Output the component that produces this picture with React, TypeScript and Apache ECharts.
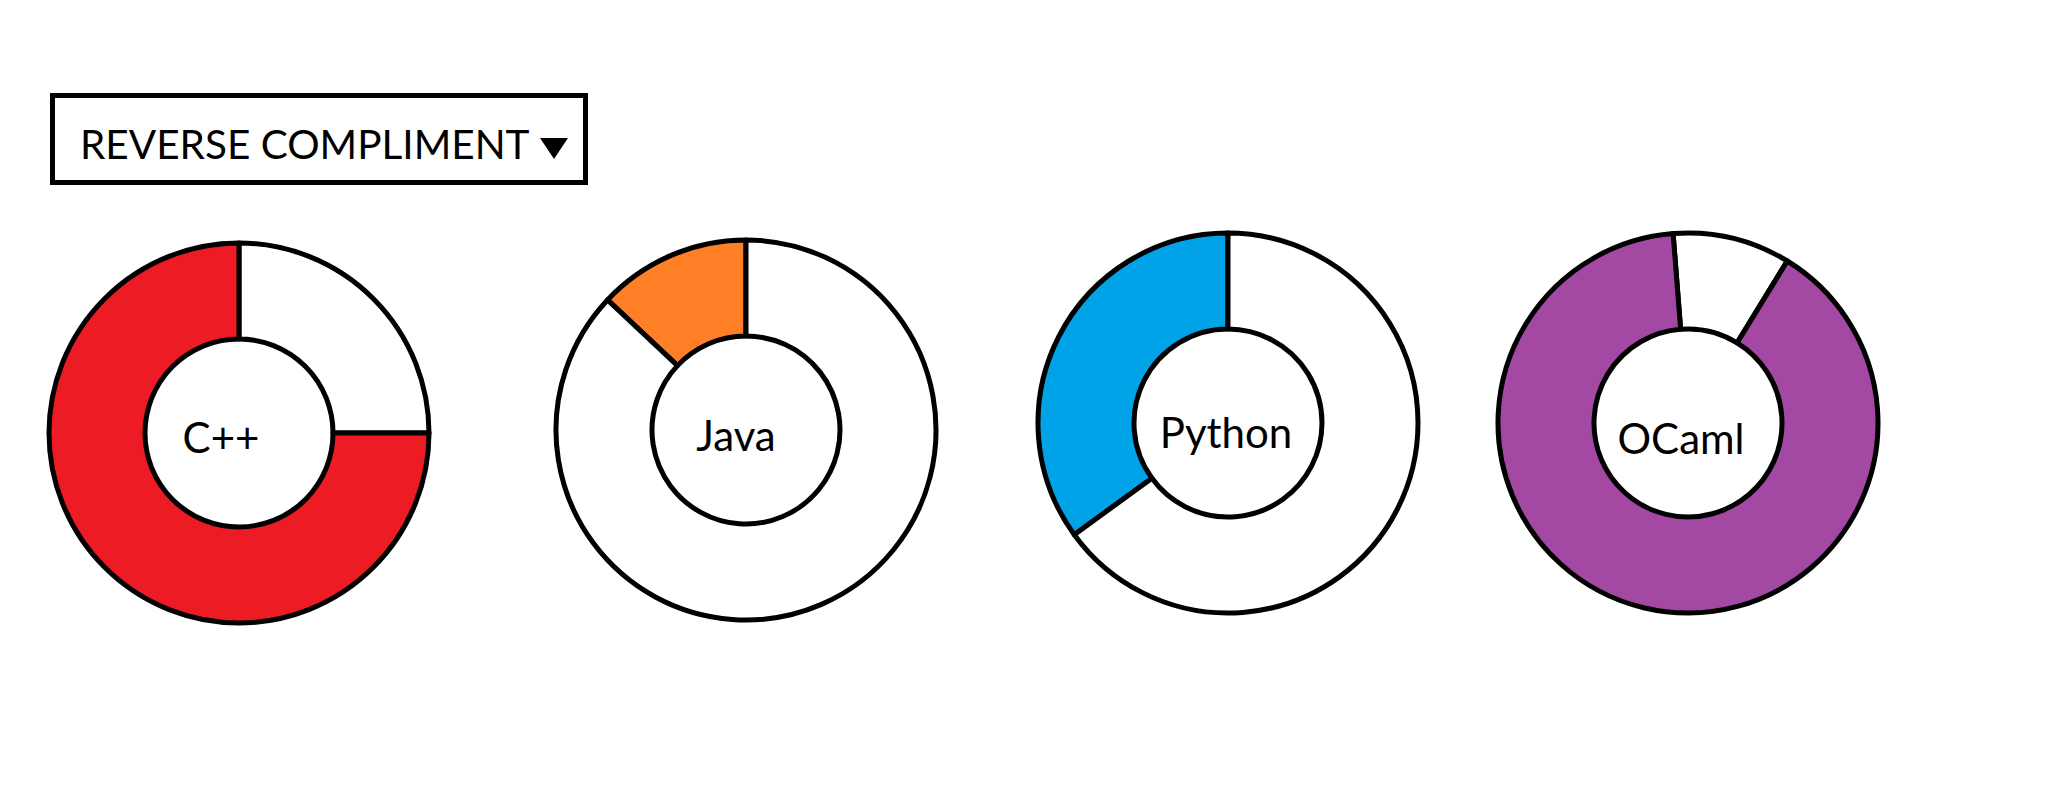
import React, { useEffect, useRef } from "react";
import * as echarts from "echarts";

// Data
const languages = ["C++", "Java", "Python", "OCaml"];
const shares = [75, 13, 35, 90]; // coloured share (%)
const colors = ["#ED1C24", "#FF7F27", "#00A2E8", "#A349A4"];
const dropdownLabel = "REVERSE COMPLIMENT";

// Layout (positions only)
const centers: [number, number][] = [
  [239, 433],
  [746, 430],
  [1228, 423],
  [1688, 423],
];
const labelPos: [number, number][] = [
  [221, 437],
  [736, 435],
  [1226, 432],
  [1681, 438],
];
const startAngles = [90, 90, 90, 94.5];
const clockwise = [true, false, false, true];
const colouredFirst = [false, true, true, false];

export default function App() {
  const ref = useRef<HTMLDivElement>(null);
  useEffect(() => {
    if (!ref.current) return;
    const chart = echarts.init(ref.current, undefined, { renderer: "svg" });
    const series = languages.map((name, i) => {
      const coloured = { name, value: shares[i], itemStyle: { color: colors[i] } };
      const rest = { name: name + " rest", value: 100 - shares[i], itemStyle: { color: "#ffffff" } };
      return {
        type: "pie",
        center: centers[i],
        radius: [94, 190],
        startAngle: startAngles[i],
        clockwise: clockwise[i],
        silent: true,
        label: { show: false },
        labelLine: { show: false },
        emphasis: { disabled: true },
        itemStyle: { borderColor: "#000", borderWidth: 5 },
        data: colouredFirst[i] ? [coloured, rest] : [rest, coloured],
      };
    });
    const labels = languages.map((name, i) => ({
      type: "text",
      x: labelPos[i][0],
      y: labelPos[i][1],
      z: 10,
      style: {
        text: name,
        fill: "#000",
        font: "42px Lato",
        textAlign: "center",
        textVerticalAlign: "middle",
      },
    }));
    chart.setOption({
      animation: false,
      backgroundColor: "#ffffff",
      series,
      graphic: [
        {
          type: "rect",
          shape: { x: 52.5, y: 95.5, width: 533, height: 87 },
          style: { fill: "#fff", stroke: "#000", lineWidth: 5 },
        },
        {
          type: "text",
          x: 80,
          y: 143,
          style: {
            text: dropdownLabel,
            fill: "#000",
            font: "40.5px Lato",
            textAlign: "left",
            textVerticalAlign: "middle",
          },
        },
        {
          type: "polygon",
          shape: { points: [[540, 138], [568, 138], [554, 159]] },
          style: { fill: "#000" },
        },
        ...labels,
      ],
    });
    return () => chart.dispose();
  }, []);
  return (
    <div
      ref={ref}
      style={{ position: "fixed", left: 0, top: 0, width: 2057, height: 796 }}
    />
  );
}
